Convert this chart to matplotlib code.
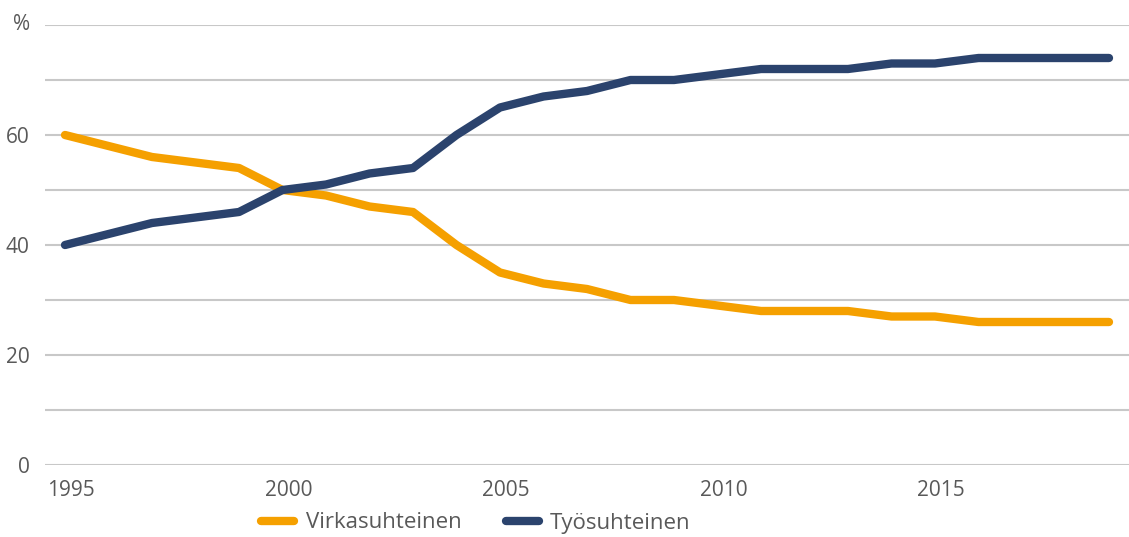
import matplotlib
matplotlib.use("Agg")
from matplotlib import pyplot as plt
import matplotlib.transforms as mtransforms

# years and shares (%)
years = list(range(1995, 2020))
virka = [60, 58, 56, 55, 54, 50, 49, 47, 46, 40, 35, 33, 32, 30, 30, 29, 28, 28, 28, 27, 27, 26, 26, 26, 26]
tyo = [40, 42, 44, 45, 46, 50, 51, 53, 54, 60, 65, 67, 68, 70, 70, 71, 72, 72, 72, 73, 73, 74, 74, 74, 74]
xticks = [1995, 2000, 2005, 2010, 2015]
ylabels = ["0", "", "20", "", "40", "", "60", "", "%"]

orange = "#F5A000"
navy = "#2B436D"
text_c = "#595959"

plt.rcParams['font.family'] = ['Open Sans', 'DejaVu Sans']

fig = plt.figure(figsize=(11.29, 5.37), dpi=100)
ax = fig.add_axes([45 / 1129, 1 - 465 / 537, 1084 / 1129, 440 / 537])

ax.plot(years, virka, color=orange, lw=6, solid_capstyle='round', solid_joinstyle='round', label="Virkasuhteinen")
ax.plot(years, tyo, color=navy, lw=6, solid_capstyle='round', solid_joinstyle='round', label="Työsuhteinen")

ax.set_xlim(1994.54, 2019.46)
ax.set_ylim(0, 80)
ax.set_yticks(range(0, 81, 10))
ax.set_yticklabels(ylabels)
ax.set_xticks(xticks)
ax.set_xticklabels([str(x) for x in xticks])
ax.grid(axis='y', color='#C8C8C8', lw=1.5)
ax.set_axisbelow(True)
for s in ax.spines.values():
    s.set_visible(False)
ax.tick_params(length=0, labelsize=15, colors=text_c)
ax.tick_params(axis='x', pad=11)
ax.tick_params(axis='y', pad=11)
# year labels sit a little right of their data points
offset = mtransforms.ScaledTranslation(6 / 100, 0, fig.dpi_scale_trans)
for lab in ax.get_xticklabels():
    lab.set_transform(lab.get_transform() + offset)
# the "%" label sits a bit higher than its gridline
ax.get_yticklabels()[-1].set_transform(ax.get_yticklabels()[-1].get_transform()
                                        + mtransforms.ScaledTranslation(0, 3 / 100, fig.dpi_scale_trans))

fig.legend(loc='center', bbox_to_anchor=(476 / 1129, 1 - 523 / 537), ncol=2, frameon=False,
           fontsize=16, labelcolor=text_c, handlelength=1.5, columnspacing=2.0, handletextpad=0.5)

fig.savefig("out.png", dpi=100)
